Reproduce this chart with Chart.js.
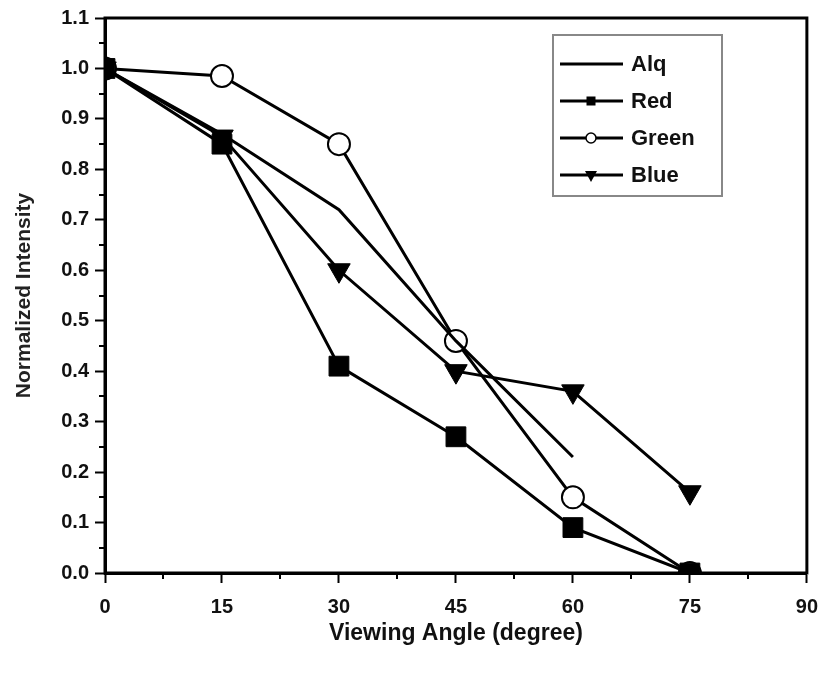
<!DOCTYPE html>
<html>
<head>
<meta charset="utf-8">
<script src="https://cdn.jsdelivr.net/npm/chart.js@4/dist/chart.umd.min.js"></script>
<style>
  html, body { margin: 0; padding: 0; background: #fff; }
  #wrap { width: 830px; height: 679px; }
</style>
</head>
<body>
<div id="wrap"><canvas id="chart"></canvas></div>
<script>
var angles = [0, 15, 30, 45, 60, 75];
var alq = [1.0, 0.87, 0.72, 0.46, 0.23];
var red = [1.0, 0.85, 0.41, 0.27, 0.09, 0.0];
var green = [1.0, 0.985, 0.85, 0.46, 0.15, 0.0];
var blue = [1.0, 0.865, 0.60, 0.40, 0.36, 0.16];
var seriesNames = ["Alq", "Red", "Green", "Blue"];

function toPoints(values) {
  var pts = [];
  for (var i = 0; i < values.length; i++) {
    pts.push({ x: angles[i], y: values[i] });
  }
  return pts;
}

var FONT = "'Liberation Sans', Arial, sans-serif";

// minor ticks + frame + inner legend
var decorPlugin = {
  id: 'decor',
  afterDraw: function(chart) {
    var ctx = chart.ctx;
    var a = chart.chartArea;
    var xs = chart.scales.x, ys = chart.scales.y;
    ctx.save();
    ctx.strokeStyle = '#000';
    ctx.lineWidth = 2;
    var v;
    for (v = 7.5; v < 90; v += 15) {
      var px = Math.round(xs.getPixelForValue(v));
      ctx.beginPath(); ctx.moveTo(px, a.bottom); ctx.lineTo(px, a.bottom + 6); ctx.stroke();
    }
    for (v = 0.05; v < 1.1; v += 0.1) {
      var py = Math.round(ys.getPixelForValue(v));
      ctx.beginPath(); ctx.moveTo(a.left, py); ctx.lineTo(a.left - 6, py); ctx.stroke();
    }
    // frame
    ctx.lineWidth = 3;
    ctx.strokeRect(a.left, a.top, a.right - a.left, a.bottom - a.top);

    // legend box
    var bx = 553, by = 35, bw = 169, bh = 161;
    ctx.lineWidth = 2;
    ctx.strokeStyle = '#888';
    ctx.strokeRect(bx, by, bw, bh);
    ctx.font = 'bold 22px ' + FONT;
    ctx.textBaseline = 'middle';
    var rows = [64, 101, 138, 175];
    chart.data.datasets.forEach(function(ds, i) {
      var y = rows[i];
      ctx.strokeStyle = '#000';
      ctx.lineWidth = 3;
      ctx.beginPath(); ctx.moveTo(560, y); ctx.lineTo(623, y); ctx.stroke();
      var cx = 591;
      ctx.lineWidth = 1.5;
      if (ds.pointStyle === 'rect') {
        ctx.fillStyle = '#000';
        ctx.fillRect(cx - 4.5, y - 4.5, 9, 9);
      } else if (ds.pointStyle === 'circle') {
        ctx.fillStyle = '#fff';
        ctx.beginPath(); ctx.arc(cx, y, 5, 0, Math.PI * 2); ctx.fill(); ctx.stroke();
      } else if (ds.pointStyle === 'triangle') {
        ctx.fillStyle = '#000';
        ctx.beginPath(); ctx.moveTo(cx - 6, y - 4); ctx.lineTo(cx + 6, y - 4); ctx.lineTo(cx, y + 7); ctx.closePath(); ctx.fill();
      }
      ctx.fillStyle = '#111';
      ctx.fillText(ds.label, 631, y + 1);
    });
    ctx.restore();
  }
};

var commonLine = { borderColor: '#000', borderWidth: 3, tension: 0, showLine: true };

new Chart(document.getElementById('chart'), {
  type: 'scatter',
  data: {
    datasets: [
      Object.assign({ label: seriesNames[0], data: toPoints(alq), pointRadius: 0, pointStyle: 'none' }, commonLine),
      Object.assign({ label: seriesNames[1], data: toPoints(red), pointStyle: 'rect', pointRadius: 14,
        backgroundColor: '#000', pointBorderColor: '#000', pointBorderWidth: 1 }, commonLine),
      Object.assign({ label: seriesNames[2], data: toPoints(green), pointStyle: 'circle', pointRadius: 11,
        backgroundColor: '#fff', pointBackgroundColor: '#fff', pointBorderColor: '#000', pointBorderWidth: 2 }, commonLine),
      Object.assign({ label: seriesNames[3], data: toPoints(blue), pointStyle: 'triangle', pointRadius: 13, rotation: 180,
        backgroundColor: '#000', pointBorderColor: '#000', pointBorderWidth: 1 }, commonLine)
    ]
  },
  options: {
    responsive: true,
    maintainAspectRatio: false,
    animation: false,
    layout: { padding: { top: 15, right: 22, left: 0, bottom: 0 } },
    plugins: { legend: { display: false }, tooltip: { enabled: false } },
    scales: {
      x: {
        type: 'linear', min: 0, max: 90,
        afterFit: function(s) { s.height = 106; },
        ticks: { stepSize: 15, color: '#111', font: { family: FONT, size: 20, weight: 'bold' }, padding: 12 },
        grid: { drawOnChartArea: false, tickLength: 10, tickWidth: 2, tickColor: '#000' },
        border: { color: '#000', width: 3 },
        title: { display: true, text: 'Viewing Angle (degree)', color: '#111',
          font: { family: FONT, size: 23, weight: 'bold' }, padding: { top: 4, bottom: 32 } }
      },
      y: {
        min: 0, max: 1.1,
        afterFit: function(s) { s.width = 105; },
        ticks: { stepSize: 0.1, color: '#111', font: { family: FONT, size: 20, weight: 'bold' }, padding: 6,
          callback: function(v) { return v.toFixed(1); } },
        grid: { drawOnChartArea: false, tickLength: 10, tickWidth: 2, tickColor: '#000' },
        border: { color: '#000', width: 3 },
        title: { display: true, text: 'Normalized Intensity', color: '#222',
          font: { family: FONT, size: 21, weight: 'bold' }, padding: { top: 12, bottom: 9 } }
      }
    }
  },
  plugins: [decorPlugin]
});
</script>
</body>
</html>
